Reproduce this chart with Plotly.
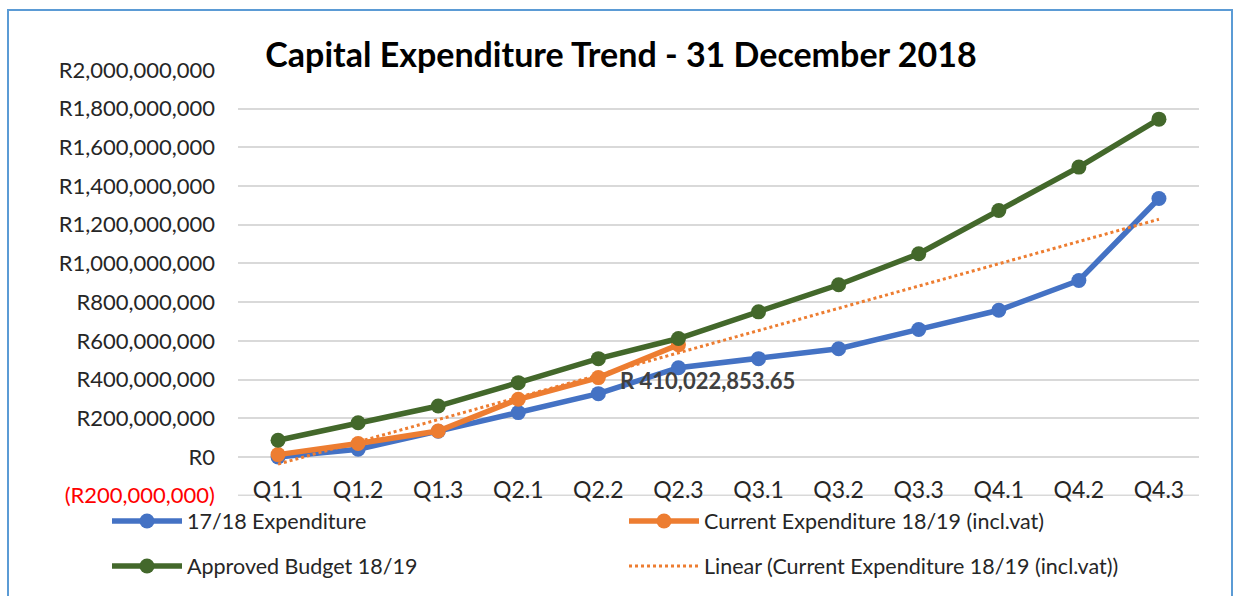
import numpy as np
import plotly.graph_objects as go

# Quarter labels and series values (Rand)
quarters = ["Q1.1", "Q1.2", "Q1.3", "Q2.1", "Q2.2", "Q2.3",
            "Q3.1", "Q3.2", "Q3.3", "Q4.1", "Q4.2", "Q4.3"]
exp_1718 = [0, 40e6, 133e6, 229e6, 327e6, 461e6,
            508e6, 559e6, 659e6, 758e6, 912e6, 1336e6]
current_1819 = [12e6, 69e6, 134e6, 298e6, 410022853.65, 580e6]
budget_1819 = [86e6, 177e6, 263e6, 384e6, 508e6, 612e6,
               750e6, 890e6, 1050e6, 1274e6, 1498e6, 1746e6]
y_ticks = [-200e6, 0, 200e6, 400e6, 600e6, 800e6, 1000e6,
           1200e6, 1400e6, 1600e6, 1800e6, 2000e6]

BLUE = "#4472C4"
ORANGE = "#ED7D31"
GREEN = "#43682B"
FONT = "Lato"

# linear trendline of current expenditure (as Excel does), over all quarters
xi = np.arange(1, len(current_1819) + 1)
slope, icpt = np.polyfit(xi, current_1819, 1)
trend = slope * np.arange(1, len(quarters) + 1) + icpt

def tick_text(v):
    if v < 0:
        return f"<span style='color:red'>(R{abs(v):,.0f})</span>"
    return f"R{v:,.0f}"

# pixel geometry of the plot area
W, H = 1238, 596
L, R, T, B = 238, 39, 70, 100
pw, ph = W - L - R, H - T - B
px = lambda x: (x - L) / pw
py = lambda y: (H - B - y) / ph

fig = go.Figure()
fig.add_trace(go.Scatter(x=quarters, y=exp_1718, name="17/18 Expenditure",
                         mode="lines+markers", line=dict(color=BLUE, width=5.5),
                         marker=dict(size=15, color=BLUE), legend="legend"))
fig.add_trace(go.Scatter(x=quarters[:len(current_1819)], y=current_1819,
                         name="Current Expenditure 18/19 (incl.vat)",
                         mode="lines+markers",
                         line=dict(color=ORANGE, width=5.5),
                         marker=dict(size=15, color=ORANGE), legend="legend"))
fig.add_trace(go.Scatter(x=quarters, y=budget_1819, name="Approved Budget 18/19",
                         mode="lines+markers", line=dict(color=GREEN, width=5.5),
                         marker=dict(size=15, color=GREEN), legend="legend2"))
fig.add_trace(go.Scatter(x=quarters, y=trend,
                         name="Linear (Current Expenditure 18/19 (incl.vat))",
                         mode="lines", line=dict(color=ORANGE, width=3, dash="dot"),
                         legend="legend2"))

# data label on Q2.2 of current expenditure
fig.add_annotation(x=quarters[4], y=current_1819[4],
                   text=f"<b>R {current_1819[4]:,.2f}</b>",
                   showarrow=False, xanchor="left", yanchor="middle",
                   xshift=20, yshift=-3,
                   font=dict(family=FONT, size=22, color="#404040"))

leg = dict(orientation="h", xanchor="left", yanchor="middle", itemwidth=70,
           entrywidth=432, font=dict(family=FONT, size=21.5, color="#262626"),
           bgcolor="rgba(0,0,0,0)", itemclick=False)

fig.update_layout(
    width=W, height=H,
    margin=dict(l=L, r=R, t=T, b=B, autoexpand=False),
    paper_bgcolor="white", plot_bgcolor="white",
    font=dict(family=FONT, color="#262626"),
    title=dict(text="<b>Capital Expenditure Trend - 31 December 2018</b>",
               xref="container", x=621 / W, xanchor="center",
               yref="container", y=1 - 55 / H, yanchor="middle",
               font=dict(family=FONT, size=34, color="black")),
    showlegend=True,
    legend=dict(leg, x=px(107), y=py(521)),
    legend2=dict(leg, x=px(107), y=py(566)),
    xaxis=dict(type="category", range=[-0.5, len(quarters) - 0.5],
               anchor="free", position=py(474),
               showgrid=False, zeroline=False, showline=False, ticks="",
               tickfont=dict(family=FONT, size=23, color="#262626")),
    yaxis=dict(range=[-202e6, 2000e6], tickvals=y_ticks,
               ticktext=[tick_text(v) for v in y_ticks],
               showgrid=True, gridcolor="#D9D9D9", gridwidth=2,
               zeroline=False, showline=False, ticks="",
               ticklabelstandoff=22,
               tickfont=dict(family=FONT, size=22, color="#262626")),
    shapes=[dict(type="rect", xref="paper", yref="paper",
                 x0=px(8), x1=px(1232), y0=py(620), y1=py(10),
                 line=dict(color="#5B9BD5", width=2), layer="below"),
            # bottom gridline (the edge one plotly leaves out)
            dict(type="line", xref="paper", yref="y", x0=0, x1=1,
                 y0=y_ticks[0], y1=y_ticks[0],
                 line=dict(color="#D9D9D9", width=2), layer="below")],
)

fig.write_html("out.html", config={"displayModeBar": False},
               post_script="document.body.style.margin='0';")
